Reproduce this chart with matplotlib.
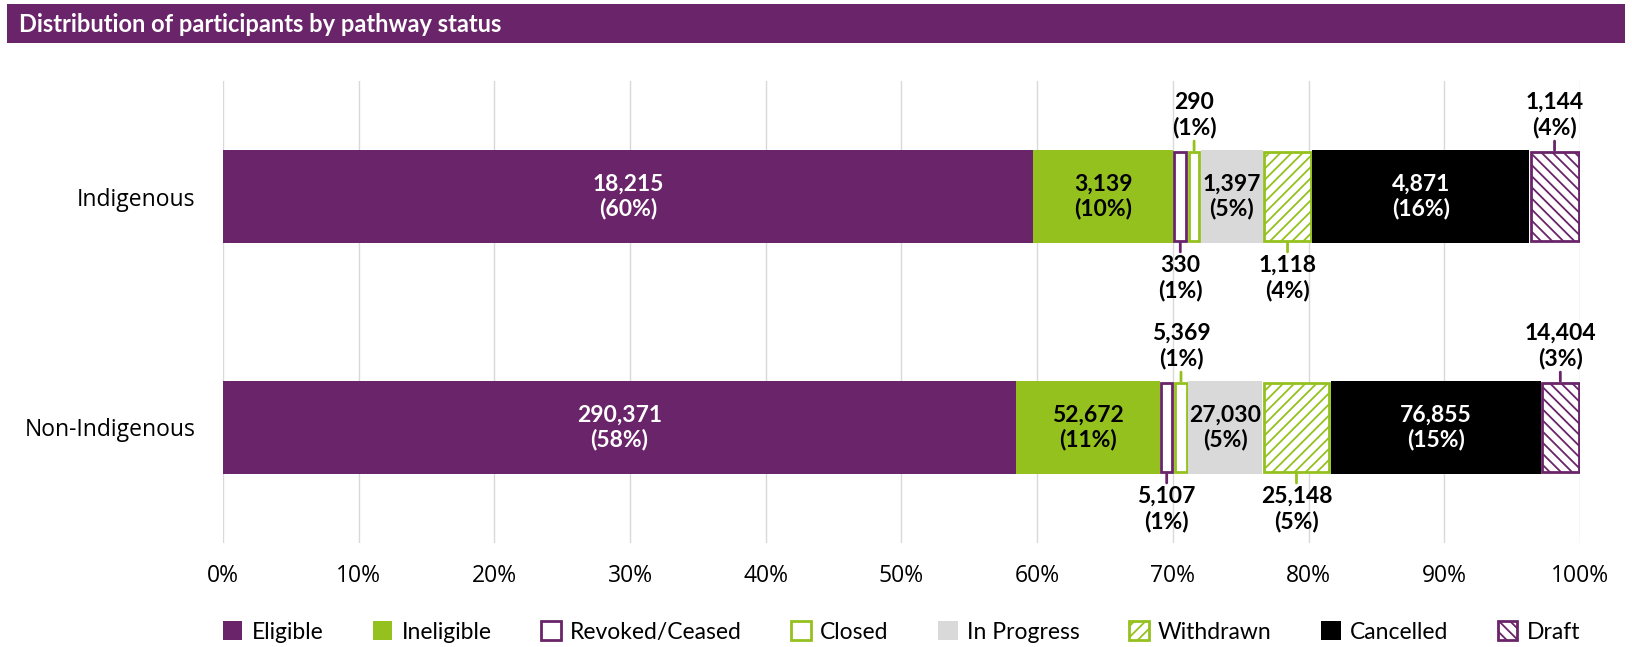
import numpy as np
import matplotlib
matplotlib.use("Agg")
import matplotlib.pyplot as plt
from matplotlib.patches import Rectangle

# data
groups = ["Indigenous", "Non-Indigenous"]
statuses = ["Eligible", "Ineligible", "Revoked/Ceased", "Closed",
            "In Progress", "Withdrawn", "Cancelled", "Draft"]
indigenous = [18215, 3139, 330, 290, 1397, 1118, 4871, 1144]
non_indigenous = [290371, 52672, 5107, 5369, 27030, 25148, 76855, 14404]
x_ticks = [0, 10, 20, 30, 40, 50, 60, 70, 80, 90, 100]

PURPLE = "#6a2469"
GREEN = "#95c11f"
GREY = "#d9d9d9"

# style per status: (face, edge, hatch, text colour, label position)
styles = {
    "Eligible":       (PURPLE, None, None, "white", "in"),
    "Ineligible":     (GREEN, None, None, "black", "in"),
    "Revoked/Ceased": ("white", PURPLE, None, "black", "below"),
    "Closed":         ("white", GREEN, None, "black", "above"),
    "In Progress":    (GREY, None, None, "black", "in"),
    "Withdrawn":      ("white", GREEN, "///", "black", "below"),
    "Cancelled":      ("black", None, None, "white", "in"),
    "Draft":          ("white", PURPLE, "\\\\\\", "black", "above"),
}

plt.rcParams["hatch.linewidth"] = 1.3

counts = np.array([indigenous, non_indigenous], dtype=float)
totals = counts.sum(axis=1)
pct = counts / totals[:, None] * 100

fig = plt.figure(figsize=(16.33, 6.47), dpi=100)
ax = fig.add_axes([223 / 1633, 1 - 543 / 647, (1580 - 223) / 1633, 462 / 647])

y = np.arange(len(groups))
h = 0.4
dx = 0.11   # inset for outlined segments (in %)
dy = 0.0065
LBL = dict(fontsize=16.5, fontweight="bold", family="Lato", linespacing=1.2)

left = np.zeros(len(groups))
for j, name in enumerate(statuses):
    fc, ec, hatch, tc, pos = styles[name]
    w = pct[:, j]
    if ec is None:
        ax.barh(y, w, left=left, height=h, color=fc, lw=0, label=name, zorder=2)
    else:
        ax.barh(y, w - 2 * dx, left=left + dx, height=h - 2 * dy, facecolor=fc,
                edgecolor=ec, hatch=hatch, lw=2.0, label=name, zorder=2)
    for i in range(len(groups)):
        cx = left[i] + w[i] / 2
        txt = "{:,}\n({:.0f}%)".format(int(counts[i, j]), pct[i, j])
        if pos == "in":
            ax.text(cx, y[i], txt, ha="center", va="center", color=tc,
                    zorder=3, **LBL)
        elif pos == "above":
            ax.annotate(txt, xy=(cx, y[i] - h / 2), xytext=(0, 12),
                        textcoords="offset pixels", ha="center", va="bottom",
                        arrowprops=dict(arrowstyle="-", color=ec, lw=2,
                                        shrinkA=0, shrinkB=0), **LBL)
        else:
            ax.annotate(txt, xy=(cx, y[i] + h / 2), xytext=(0, -12),
                        textcoords="offset pixels", ha="center", va="top",
                        arrowprops=dict(arrowstyle="-", color=ec, lw=2,
                                        shrinkA=0, shrinkB=0), **LBL)
    left = left + w

ax.set_xlim(0, 100)
ax.set_ylim(-0.5, 1.5)
ax.invert_yaxis()
ax.set_yticks(y)
ax.set_yticklabels(groups, family="Open Sans", fontsize=16.5)
ax.set_xticks(x_ticks)
ax.set_xticklabels([f"{t}%" for t in x_ticks], family="Open Sans", fontsize=16.5)
ax.tick_params(axis="x", length=0, pad=15)
ax.tick_params(axis="y", length=0, pad=20)
ax.grid(axis="x", color="#d9d9d9", lw=1)
ax.set_axisbelow(True)
for s in ax.spines.values():
    s.set_visible(False)

# title band
fig.add_artist(Rectangle((7 / 1633, 1 - 43 / 647), (1625 - 7) / 1633, 39 / 647,
                         transform=fig.transFigure, color=PURPLE, lw=0))
fig.text(19 / 1633, 1 - 24 / 647, "Distribution of participants by pathway status",
         color="white", fontsize=17, fontweight="bold", family="Lato",
         va="center", ha="left")

fig.legend(loc="center", bbox_to_anchor=(223 / 1633, 1 - 632 / 647, (1580 - 223) / 1633, 0),
           mode="expand", ncol=8, frameon=False, borderpad=0, borderaxespad=0,
           handlelength=0.85, handleheight=0.85, handletextpad=0.4,
           prop={"family": "Lato", "size": 16.5})

fig.savefig("out.png", dpi=100)
